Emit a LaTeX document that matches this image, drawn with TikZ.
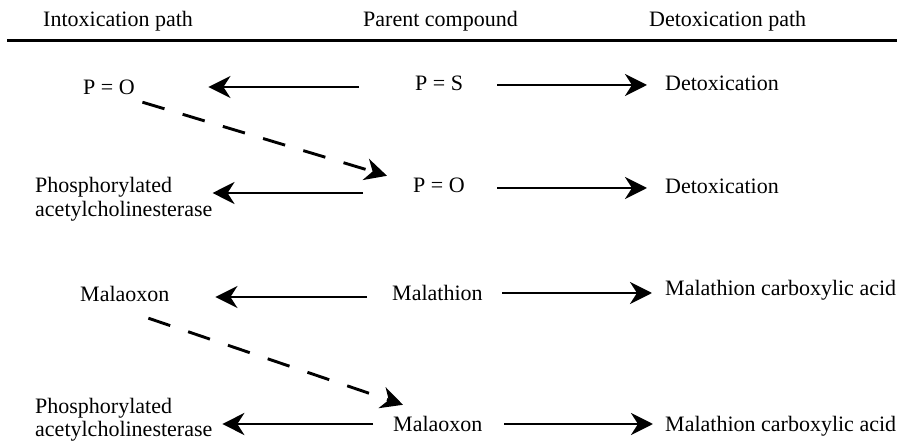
\documentclass[tikz,border=0pt]{standalone}
\usepackage{fontspec}
\setmainfont{Liberation Serif}
\usetikzlibrary{arrows.meta}
\begin{document}
\begin{tikzpicture}[x=1bp,y=-1bp,
  lbl/.style={anchor=base west,inner sep=0pt,text height=15bp,text depth=5bp,
    font=\fontsize{22bp}{23.5bp}\selectfont},
  arr/.style={line width=2.9bp,-{Stealth[length=22bp,width=22bp,inset=7bp]}},
  darr/.style={arr,dash pattern=on 23bp off 19bp},
  rulex/.style={line width=3bp}]
\useasboundingbox (0,0) rectangle (897,442);
% header
\node[lbl] (h1) at (43,27) {Intoxication path};
\node[lbl] (h2) at (363,27) {Parent compound};
\node[lbl] (h3) at (649,27) {Detoxication path};
\coordinate (rl) at (7,41);
\coordinate (rr) at (897,41);
\draw[rulex] (rl) -- (rr);
% row 1
\node[lbl] (a1) at (83,95) {P = O};
\node[lbl] (b1) at (415,91) {P = S};
\node[lbl] (c1) at (665,91) {Detoxication};
% row 2
\node[lbl] (a2) at (35,193) {\begin{tabular}[t]{@{}l@{}}Phosphorylated\\acetylcholinesterase\end{tabular}};
\node[lbl] (b2) at (413,193) {P = O};
\node[lbl] (c2) at (665,194) {Detoxication};
% row 3
\node[lbl] (a3) at (80,302) {Malaoxon};
\node[lbl] (b3) at (392,301) {Malathion};
\node[lbl] (c3) at (665,296) {Malathion carboxylic acid};
% row 4
\node[lbl] (a4) at (35,413) {\begin{tabular}[t]{@{}l@{}}Phosphorylated\\acetylcholinesterase\end{tabular}};
\node[lbl] (b4) at (393,431) {Malaoxon};
\node[lbl] (c4) at (665,431) {Malathion carboxylic acid};
% left arrows
\draw[arr] ([xshift=-56bp,yshift=-1bp]b1.west) -- ([xshift=73.5bp,yshift=-1bp]b1.west -| a1.east);
\draw[arr] ([xshift=-50bp,yshift=-5bp]b2.west) -- ([xshift=0bp,yshift=-5bp]b2.west -| a2.east);
\draw[arr] ([xshift=-25bp,yshift=-1bp]b3.west) -- ([xshift=45.8bp,yshift=-1bp]b3.west -| a3.east);
\draw[arr] ([xshift=-20bp,yshift=2bp]b4.west) -- ([xshift=9.8bp,yshift=2bp]b4.west -| a4.east);
% right arrows
\draw[arr] ([xshift=34bp,yshift=1bp]b1.east) -- ([xshift=-18bp,yshift=1bp]b1.east -| c1.west);
\draw[arr] ([xshift=32.5bp]b2.east) -- ([xshift=-18bp]b2.east -| c2.west);
\draw[arr] ([xshift=19.6bp,yshift=3bp]b3.east) -- ([xshift=-13bp,yshift=3bp]b3.east -| c3.west);
\draw[arr] ([xshift=21.8bp,yshift=2bp]b4.east) -- ([xshift=-12bp,yshift=2bp]b4.east -| c4.west);
% dashed arrows
\draw[darr] ([xshift=7.5bp,yshift=-2bp]a1.south east) -- ([xshift=-26bp,yshift=2bp]b2.north west);
\draw[darr] ([xshift=-21.2bp,yshift=-11bp]a3.south east) -- ([xshift=10bp,yshift=11bp]b4.north west);
\end{tikzpicture}
\end{document}
